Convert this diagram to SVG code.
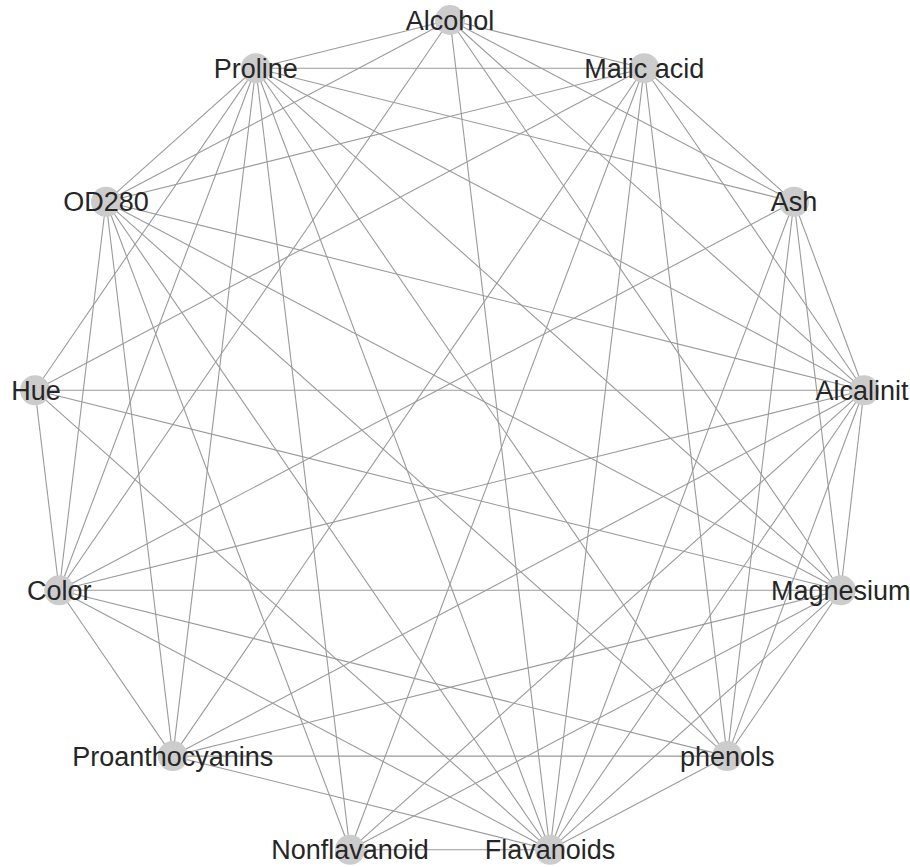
<svg xmlns="http://www.w3.org/2000/svg" width="910" height="867" viewBox="0 0 910 867">
<style>
.e{stroke:#9a9a9a;stroke-width:1.1;fill:none}
.n{fill:#cccccc}
.t{font-family:"Liberation Sans",Arial,sans-serif;font-size:27px;fill:#262626;text-anchor:middle}
</style>
<rect width="910" height="867" fill="#ffffff"/>
<g id="edges">
<line class="e" x1="450" y1="20" x2="644.2" y2="68.2"/>
<line class="e" x1="450" y1="20" x2="794" y2="201.8"/>
<line class="e" x1="450" y1="20" x2="864" y2="390.3"/>
<line class="e" x1="450" y1="20" x2="840.8" y2="590.3"/>
<line class="e" x1="450" y1="20" x2="550" y2="849.8"/>
<line class="e" x1="450" y1="20" x2="59.2" y2="590.3"/>
<line class="e" x1="450" y1="20" x2="106" y2="201.8"/>
<line class="e" x1="450" y1="20" x2="255.8" y2="68.2"/>
<line class="e" x1="644.2" y1="68.2" x2="794" y2="201.8"/>
<line class="e" x1="644.2" y1="68.2" x2="864" y2="390.3"/>
<line class="e" x1="644.2" y1="68.2" x2="727.2" y2="756.1"/>
<line class="e" x1="644.2" y1="68.2" x2="550" y2="849.8"/>
<line class="e" x1="644.2" y1="68.2" x2="350" y2="849.8"/>
<line class="e" x1="644.2" y1="68.2" x2="172.8" y2="756.1"/>
<line class="e" x1="644.2" y1="68.2" x2="35" y2="390.3"/>
<line class="e" x1="644.2" y1="68.2" x2="106" y2="201.8"/>
<line class="e" x1="644.2" y1="68.2" x2="255.8" y2="68.2"/>
<line class="e" x1="794" y1="201.8" x2="864" y2="390.3"/>
<line class="e" x1="794" y1="201.8" x2="840.8" y2="590.3"/>
<line class="e" x1="794" y1="201.8" x2="727.2" y2="756.1"/>
<line class="e" x1="794" y1="201.8" x2="550" y2="849.8"/>
<line class="e" x1="794" y1="201.8" x2="59.2" y2="590.3"/>
<line class="e" x1="794" y1="201.8" x2="255.8" y2="68.2"/>
<line class="e" x1="864" y1="390.3" x2="840.8" y2="590.3"/>
<line class="e" x1="864" y1="390.3" x2="727.2" y2="756.1"/>
<line class="e" x1="864" y1="390.3" x2="550" y2="849.8"/>
<line class="e" x1="864" y1="390.3" x2="350" y2="849.8"/>
<line class="e" x1="864" y1="390.3" x2="172.8" y2="756.1"/>
<line class="e" x1="864" y1="390.3" x2="59.2" y2="590.3"/>
<line class="e" x1="864" y1="390.3" x2="35" y2="390.3"/>
<line class="e" x1="864" y1="390.3" x2="106" y2="201.8"/>
<line class="e" x1="864" y1="390.3" x2="255.8" y2="68.2"/>
<line class="e" x1="840.8" y1="590.3" x2="727.2" y2="756.1"/>
<line class="e" x1="840.8" y1="590.3" x2="550" y2="849.8"/>
<line class="e" x1="840.8" y1="590.3" x2="350" y2="849.8"/>
<line class="e" x1="840.8" y1="590.3" x2="172.8" y2="756.1"/>
<line class="e" x1="840.8" y1="590.3" x2="59.2" y2="590.3"/>
<line class="e" x1="840.8" y1="590.3" x2="35" y2="390.3"/>
<line class="e" x1="840.8" y1="590.3" x2="106" y2="201.8"/>
<line class="e" x1="840.8" y1="590.3" x2="255.8" y2="68.2"/>
<line class="e" x1="727.2" y1="756.1" x2="550" y2="849.8"/>
<line class="e" x1="727.2" y1="756.1" x2="172.8" y2="756.1"/>
<line class="e" x1="727.2" y1="756.1" x2="59.2" y2="590.3"/>
<line class="e" x1="727.2" y1="756.1" x2="106" y2="201.8"/>
<line class="e" x1="727.2" y1="756.1" x2="255.8" y2="68.2"/>
<line class="e" x1="550" y1="849.8" x2="350" y2="849.8"/>
<line class="e" x1="550" y1="849.8" x2="172.8" y2="756.1"/>
<line class="e" x1="550" y1="849.8" x2="59.2" y2="590.3"/>
<line class="e" x1="550" y1="849.8" x2="35" y2="390.3"/>
<line class="e" x1="550" y1="849.8" x2="106" y2="201.8"/>
<line class="e" x1="550" y1="849.8" x2="255.8" y2="68.2"/>
<line class="e" x1="350" y1="849.8" x2="106" y2="201.8"/>
<line class="e" x1="350" y1="849.8" x2="255.8" y2="68.2"/>
<line class="e" x1="172.8" y1="756.1" x2="59.2" y2="590.3"/>
<line class="e" x1="172.8" y1="756.1" x2="106" y2="201.8"/>
<line class="e" x1="172.8" y1="756.1" x2="255.8" y2="68.2"/>
<line class="e" x1="59.2" y1="590.3" x2="35" y2="390.3"/>
<line class="e" x1="59.2" y1="590.3" x2="106" y2="201.8"/>
<line class="e" x1="59.2" y1="590.3" x2="255.8" y2="68.2"/>
<line class="e" x1="35" y1="390.3" x2="255.8" y2="68.2"/>
<line class="e" x1="106" y1="201.8" x2="255.8" y2="68.2"/>
</g>
<g id="alcohol"><circle class="n" cx="450" cy="20" r="15"/><text class="t" x="450" y="29.5">Alcohol</text></g>
<g id="malic-acid"><circle class="n" cx="644.2" cy="68.2" r="15"/><text class="t" x="644.2" y="77.7">Malic acid</text></g>
<g id="ash"><circle class="n" cx="794" cy="201.8" r="15"/><text class="t" x="794" y="211.3">Ash</text></g>
<g id="alcalinit"><circle class="n" cx="864" cy="390.3" r="15"/><text class="t" x="862" y="399.8">Alcalinit</text></g>
<g id="magnesium"><circle class="n" cx="840.8" cy="590.3" r="15"/><text class="t" x="840.8" y="599.8">Magnesium</text></g>
<g id="phenols"><circle class="n" cx="727.2" cy="756.1" r="15"/><text class="t" x="727.2" y="765.6">phenols</text></g>
<g id="flavanoids"><circle class="n" cx="550" cy="849.8" r="15"/><text class="t" x="550" y="859.3">Flavanoids</text></g>
<g id="nonflavanoid"><circle class="n" cx="350" cy="849.8" r="15"/><text class="t" x="350" y="859.3">Nonflavanoid</text></g>
<g id="proanthocyanins"><circle class="n" cx="172.8" cy="756.1" r="15"/><text class="t" x="172.8" y="765.6">Proanthocyanins</text></g>
<g id="color"><circle class="n" cx="59.2" cy="590.3" r="15"/><text class="t" x="59.2" y="599.8">Color</text></g>
<g id="hue"><circle class="n" cx="35" cy="390.3" r="15"/><text class="t" x="36" y="399.8">Hue</text></g>
<g id="od280"><circle class="n" cx="106" cy="201.8" r="15"/><text class="t" x="106" y="211.3">OD280</text></g>
<g id="proline"><circle class="n" cx="255.8" cy="68.2" r="15"/><text class="t" x="255.8" y="77.7">Proline</text></g>
</svg>
